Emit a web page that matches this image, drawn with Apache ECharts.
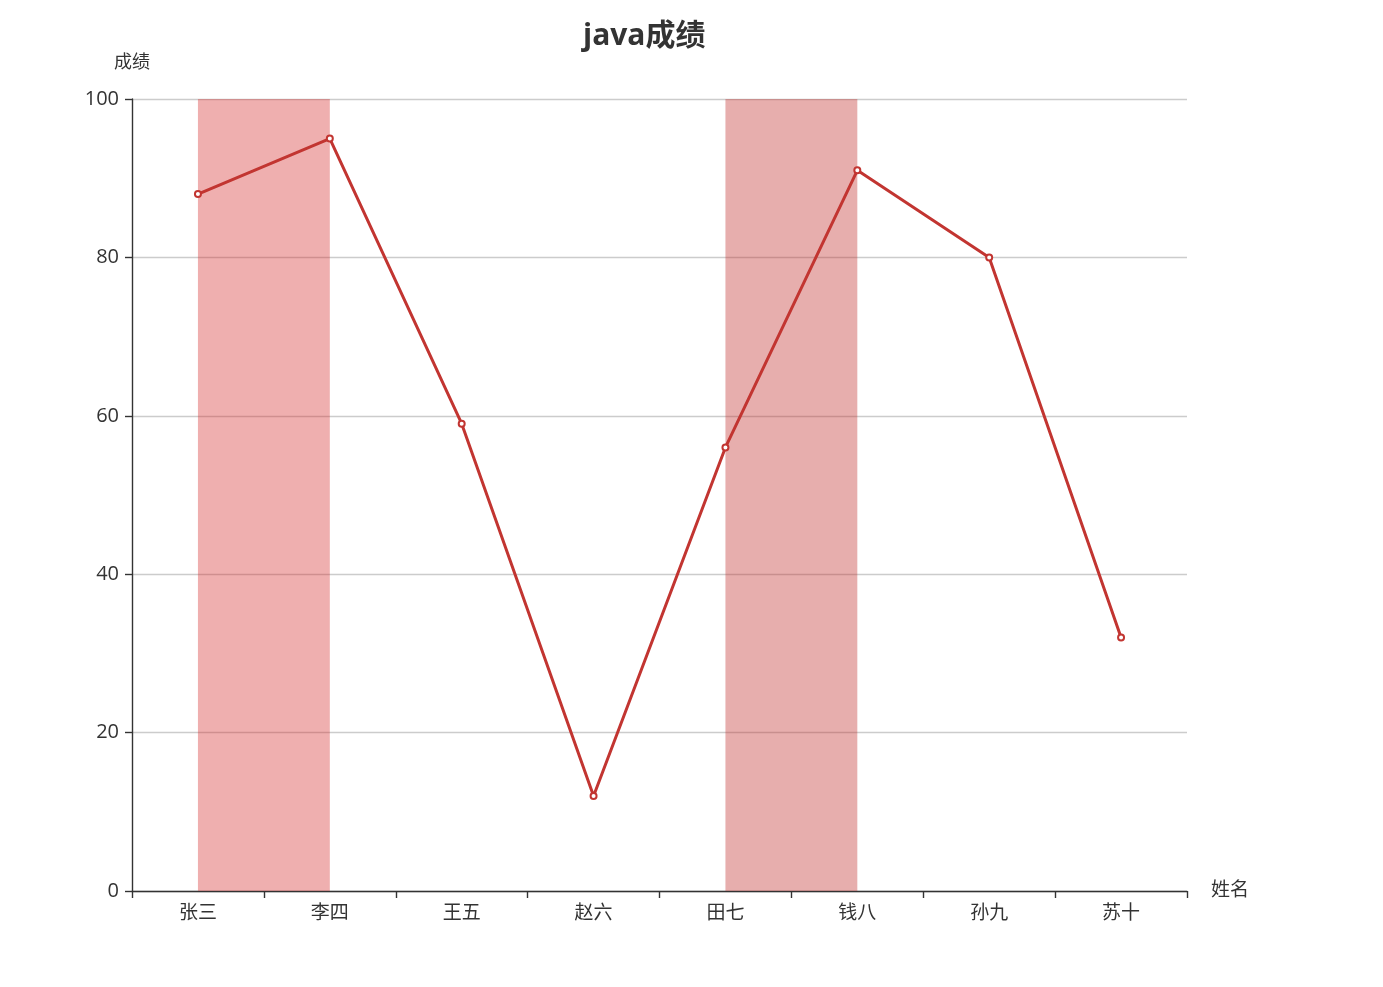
<!DOCTYPE html>
<html><head><meta charset="utf-8">
<script src="https://cdn.jsdelivr.net/npm/echarts@6/dist/echarts.min.js"></script>
<style>html,body{margin:0;padding:0;background:#fff}#c{width:1383px;height:987px}</style>
</head><body><div id="c"></div>
<script>
const names = ['张三','李四','王五','赵六','田七','钱八','孙九','苏十'];
const scores = [88, 95, 59, 12, 56, 91, 80, 32];
const areas = [['张三','李四'], ['田七','钱八']];
const yTicks = [0, 20, 40, 60, 80, 100];

const font = '"Open Sans", "Noto Sans CJK SC", sans-serif';
const chart = echarts.init(document.getElementById('c'));
chart.setOption({
  animation: false,
  title: { text: 'java成绩', left: 578, top: 16,
    textStyle: { fontSize: 30, fontWeight: 'bold', color: '#333', fontFamily: font } },
  grid: { left: 132, right: 196, top: 99, bottom: 96 },
  xAxis: {
    type: 'category', data: names, name: '姓名', nameGap: 24,
    nameTextStyle: { fontSize: 19, color: '#333', fontFamily: font },
    axisLine: { lineStyle: { color: '#333', width: 1.4 } },
    axisTick: { show: true, length: 7, lineStyle: { width: 1.4 } },
    axisLabel: { fontSize: 19, color: '#333', fontFamily: font, margin: 13 }
  },
  yAxis: {
    type: 'value', min: yTicks[0], max: yTicks[yTicks.length - 1], interval: 20,
    name: '成绩', nameGap: 27,
    nameTextStyle: { fontSize: 18, color: '#333', fontFamily: font },
    axisLine: { show: true, lineStyle: { color: '#333', width: 1.4 } },
    axisTick: { show: true, length: 7, lineStyle: { width: 1.4 } },
    axisLabel: { fontSize: 20, color: '#333', fontFamily: font, margin: 13 },
    splitLine: { lineStyle: { color: '#ccc', width: 1.4 } }
  },
  series: [{
    type: 'line', data: scores,
    symbol: 'emptyCircle', symbolSize: 6,
    lineStyle: { width: 3, color: '#c23531' },
    itemStyle: { color: '#c23531', borderWidth: 1.5 },
    markArea: {
      silent: true,
      data: [
        [{ xAxis: areas[0][0], itemStyle: { color: 'rgba(212,45,45,0.38)' } }, { xAxis: areas[0][1] }],
        [{ xAxis: areas[1][0], itemStyle: { color: 'rgba(194,53,49,0.4)' } }, { xAxis: areas[1][1] }]
      ]
    }
  }]
});
</script></body></html>
